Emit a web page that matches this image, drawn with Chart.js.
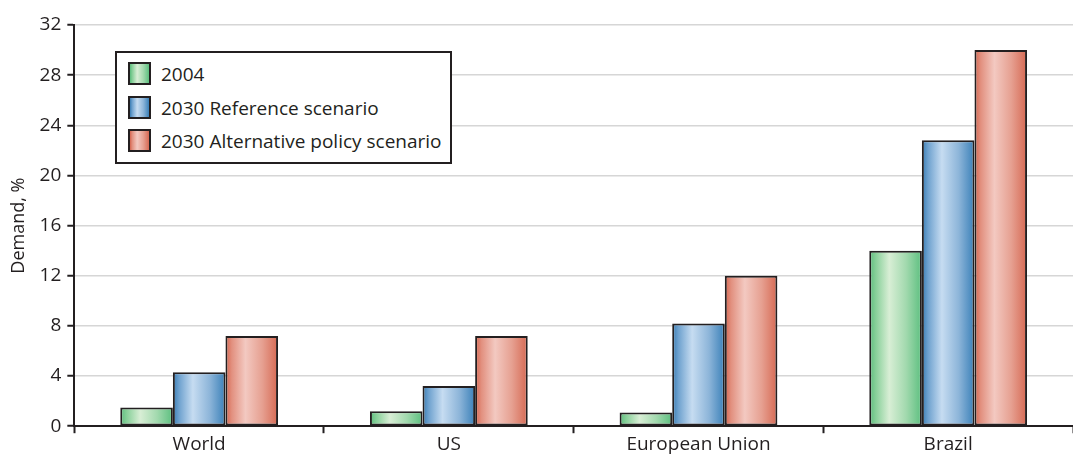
<!DOCTYPE html>
<html>
<head>
<meta charset="utf-8">
<script src="https://cdn.jsdelivr.net/npm/chart.js@4.4.1/dist/chart.umd.min.js"></script>
<style>
  html, body { margin: 0; padding: 0; background: #fff; }
  #wrap { position: relative; width: 1073px; height: 456px; overflow: hidden; }
  #legend {
    position: absolute; left: 115px; top: 51px; width: 333px; height: 109px;
    border: 2px solid #231f20; background: #fff;
    font-family: "Open Sans", "Liberation Sans", Arial, sans-serif; font-size: 19px; color: #231f20;
  }
  .item { position: absolute; left: 11px; height: 23px; display: flex; align-items: center; white-space: nowrap; }
  .sw { width: 19px; height: 19px; border: 2px solid #231f20; margin-right: 10px; flex: none; }
</style>
</head>
<body>
<div id="wrap">
  <canvas id="chart" width="1073" height="456"></canvas>
  <div id="legend"></div>
</div>
<script>
// Categories and series values (demand, %)
const categories = ["World", "US", "European Union", "Brazil"];
const seriesNames = ["2004", "2030 Reference scenario", "2030 Alternative policy scenario"];
const values2004 = [1.5, 1.2, 1.1, 14.0];
const valuesReference2030 = [4.3, 3.2, 8.2, 22.8];
const valuesAlternative2030 = [7.2, 7.2, 12.0, 30.0];
const yTicks = [0, 4, 8, 12, 16, 20, 24, 28, 32];

// Cylinder-style horizontal shading for each series
const shades = [
  [[0, "#5bbd7d"], [0.12, "#86cf98"], [0.38, "#d8eed5"], [0.7, "#a2d9ae"], [1, "#5cbf7f"]],
  [[0, "#3a7db4"], [0.12, "#6fa2cf"], [0.38, "#c6dcf1"], [0.7, "#8db5d9"], [1, "#3a80b8"]],
  [[0, "#d5654f"], [0.12, "#e2907f"], [0.38, "#f3c9c1"], [0.7, "#e6a091"], [1, "#d66953"]]
];

const INK = "#231f20";
const FONT = "'Open Sans', 'Liberation Sans', Arial, sans-serif";

// Legend in a bordered box over the plot area
const legendEl = document.getElementById("legend");
const swatchTops = [9, 43, 76];
seriesNames.forEach((name, i) => {
  const item = document.createElement("div");
  item.className = "item";
  item.style.top = swatchTops[i] + "px";
  const sw = document.createElement("div");
  sw.className = "sw";
  sw.style.background = "linear-gradient(to right, " +
    shades[i].map(([s, c]) => c + " " + (s * 100) + "%").join(", ") + ")";
  const label = document.createElement("span");
  label.textContent = name;
  item.appendChild(sw);
  item.appendChild(label);
  legendEl.appendChild(item);
});

// Paint each bar with a gradient spanning its own width
const barShade = {
  id: "barShade",
  beforeDatasetsDraw(chart) {
    const ctx = chart.ctx;
    chart.data.datasets.forEach((ds, i) => {
      const meta = chart.getDatasetMeta(i);
      meta.data.forEach(el => {
        const left = el.x - el.width / 2;
        const right = el.x + el.width / 2;
        const g = ctx.createLinearGradient(left, 0, right, 0);
        shades[i].forEach(([s, c]) => g.addColorStop(s, c));
        el.options = Object.assign({}, el.options, { backgroundColor: g });
      });
    });
  }
};

const seriesValues = [values2004, valuesReference2030, valuesAlternative2030];

new Chart(document.getElementById("chart"), {
  type: "bar",
  data: {
    labels: categories,
    datasets: seriesNames.map((name, i) => ({
      label: name,
      data: seriesValues[i],
      backgroundColor: shades[i][2][1],
      borderColor: INK,
      borderWidth: 2,
      borderSkipped: false,
      barPercentage: 1.0,
      categoryPercentage: 0.632
    }))
  },
  options: {
    responsive: false,
    animation: false,
    devicePixelRatio: 1,
    layout: { padding: { top: 25, right: 0, bottom: 0, left: 8 } },
    plugins: {
      legend: { display: false },
      tooltip: { enabled: false }
    },
    scales: {
      x: {
        offset: true,
        grid: {
          offset: true,
          drawOnChartArea: false,
          drawTicks: true,
          tickLength: 7,
          tickWidth: 2,
          tickColor: INK
        },
        border: { display: true, color: INK, width: 2 },
        ticks: {
          color: INK,
          font: { family: FONT, size: 19 },
          padding: 0
        }
      },
      y: {
        min: 0,
        max: 32,
        afterBuildTicks(scale) { scale.ticks = yTicks.map(v => ({ value: v })); },
        grid: {
          color: "#d6d6d6",
          lineWidth: 1.5,
          tickColor: INK,
          tickWidth: 2,
          tickLength: 7
        },
        border: { display: true, color: INK, width: 2 },
        ticks: {
          color: INK,
          font: { family: FONT, size: 19 },
          padding: 6
        },
        title: {
          display: true,
          text: "Demand, %",
          color: INK,
          font: { family: FONT, size: 18 },
          padding: { top: 0, bottom: 4 }
        }
      }
    }
  },
  plugins: [barShade]
});
</script>
</body>
</html>
